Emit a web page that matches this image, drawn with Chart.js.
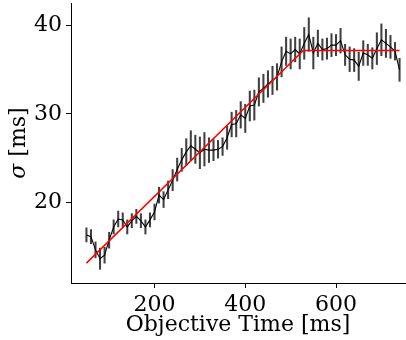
<!DOCTYPE html>
<html>
<head>
<meta charset="utf-8">
<script src="https://cdn.jsdelivr.net/npm/chart.js@4.4.1/dist/chart.umd.min.js"></script>
<style>
  html, body { margin: 0; padding: 0; background: #fff; overflow: hidden; }
  #wrap { position: relative; width: 406px; height: 340px; }
</style>
</head>
<body>
<div id="wrap"><canvas id="canvas" width="406" height="340"></canvas></div>
<script>
// objective time (ms) for each measured point
var times = [50, 60, 70, 80, 90, 100, 110, 120, 130, 140, 150, 160, 170, 180, 190, 200,
    210, 220, 230, 240, 250, 260, 270, 280, 290, 300, 310, 320, 330, 340, 350, 360,
    370, 380, 390, 400, 410, 420, 430, 440, 450, 460, 470, 480, 490, 500, 510, 520,
    530, 540, 550, 560, 570, 580, 590, 600, 610, 620, 630, 640, 650, 660, 670, 680,
    690, 700, 710, 720, 730, 740];
// measured sigma (ms)
var sigma = [16.3, 16.1, 14.6, 13.6, 14.0, 15.7, 17.2, 18.1, 18.0, 17.2, 17.9, 18.4, 17.9, 17.2, 18.0, 18.9,
    20.8, 20.3, 21.4, 22.5, 23.7, 24.8, 25.7, 26.4, 26.0, 25.6, 26.0, 25.9, 25.9, 26.0, 26.3, 27.3,
    28.8, 28.9, 29.9, 29.5, 30.9, 31.0, 32.5, 32.9, 33.4, 33.8, 34.2, 35.9, 37.1, 36.8, 37.3, 36.8,
    38.0, 39.0, 36.9, 38.0, 37.3, 37.4, 37.8, 37.8, 38.3, 36.7, 36.2, 36.1, 35.4, 36.9, 36.7, 36.3,
    37.4, 38.4, 38.0, 37.6, 37.1, 35.0];
// half length of the error bars
var sigmaErr = [0.8, 0.8, 0.9, 1.2, 0.9, 0.9, 0.8, 0.9, 0.8, 0.8, 0.8, 0.8, 0.8, 0.8, 0.8, 0.9,
    0.9, 0.9, 1.0, 1.2, 1.3, 1.3, 1.5, 1.7, 1.6, 1.8, 1.9, 1.4, 1.2, 1.0, 1.0, 1.3,
    1.4, 1.5, 1.5, 1.6, 1.7, 1.7, 1.6, 1.6, 1.5, 1.6, 1.5, 1.7, 1.6, 1.7, 1.4, 1.7,
    1.8, 1.9, 1.8, 1.5, 1.2, 1.2, 1.3, 1.2, 1.4, 1.2, 1.4, 1.3, 1.6, 1.4, 1.2, 1.2,
    1.8, 1.8, 1.6, 1.3, 1.0, 1.3];
// piecewise linear fit
var fitTimes = [50, 528, 740];
var fitSigma = [13.1, 37.2, 37.2];

var xTicks = [200, 400, 600];
var yTicks = [20, 30, 40];

var lineData = times.map(function (t, i) { return {x: t, y: sigma[i]}; });
var errData = times.map(function (t, i) { return {x: t, y: [sigma[i] - sigmaErr[i], sigma[i] + sigmaErr[i]]}; });
var fitData = fitTimes.map(function (t, i) { return {x: t, y: fitSigma[i]}; });

var serif = "'DejaVu Serif', serif";

// y label with an italic sigma, like the mathtext one
var yLabelPlugin = {
    id: 'yLabel',
    afterDraw: function (chart) {
        var c = chart.ctx;
        var area = chart.chartArea;
        var italic = 'italic 22px ' + serif;
        var normal = '22px ' + serif;
        c.save();
        c.font = italic;
        var w1 = c.measureText('σ').width;
        c.font = normal;
        var w2 = c.measureText(' [ms]').width;
        c.translate(19, (area.top + area.bottom) / 2);
        c.rotate(-Math.PI / 2);
        c.fillStyle = '#000';
        c.textBaseline = 'middle';
        c.textAlign = 'left';
        var start = -(w1 + w2) / 2;
        c.font = italic;
        c.fillText('σ', start, 0);
        c.font = normal;
        c.fillText(' [ms]', start + w1, 0);
        c.restore();
    }
};

var ctx = document.getElementById('canvas').getContext('2d');
new Chart(ctx, {
    type: 'bar',
    data: {
        datasets: [{
            type: 'line',
            data: fitData,
            borderColor: '#ff0000',
            borderWidth: 1.5,
            pointRadius: 0,
            fill: false,
            order: 0
        },
        {
            type: 'line',
            data: lineData,
            borderColor: '#000000',
            borderWidth: 1.1,
            pointRadius: 0,
            fill: false,
            order: 1
        },
        {
            type: 'bar',
            data: errData,
            backgroundColor: 'rgba(0,0,0,0.75)',
            borderWidth: 0,
            barThickness: 1.4,
            grouped: false,
            order: 2
        }]
    },
    plugins: [yLabelPlugin],
    options: {
        responsive: false,
        animation: false,
        layout: { padding: { top: 3, right: 1, left: 0, bottom: 0 } },
        plugins: { legend: { display: false }, tooltip: { enabled: false } },
        scales: {
            x: {
                type: 'linear',
                min: 16,
                max: 752,
                offset: false,
                grid: { drawOnChartArea: false, drawTicks: true, tickLength: 5, color: '#000', offset: false },
                border: { display: true, color: '#000', width: 1 },
                ticks: { color: '#000', font: { family: serif, size: 22 }, padding: 4, maxRotation: 0 },
                afterBuildTicks: function (scale) {
                    scale.ticks = xTicks.map(function (v) { return {value: v}; });
                },
                afterFit: function (scale) {
                    scale.height = 57;
                    scale.paddingLeft = 0;
                    scale.paddingRight = 0;
                },
                title: {
                    display: true,
                    text: 'Objective Time [ms]',
                    color: '#000',
                    font: { family: serif, size: 22 },
                    padding: { top: 0, bottom: 2 }
                }
            },
            y: {
                min: 10.85,
                max: 42.57,
                grid: { drawOnChartArea: false, drawTicks: true, tickLength: 5, color: '#000' },
                border: { display: true, color: '#000', width: 1 },
                ticks: { color: '#000', font: { family: serif, size: 22 }, padding: 4 },
                afterBuildTicks: function (scale) {
                    scale.ticks = yTicks.map(function (v) { return {value: v}; });
                },
                afterFit: function (scale) {
                    scale.width = 71;
                    scale.paddingTop = 0;
                    scale.paddingBottom = 0;
                }
            }
        }
    }
});
</script>
</body>
</html>
